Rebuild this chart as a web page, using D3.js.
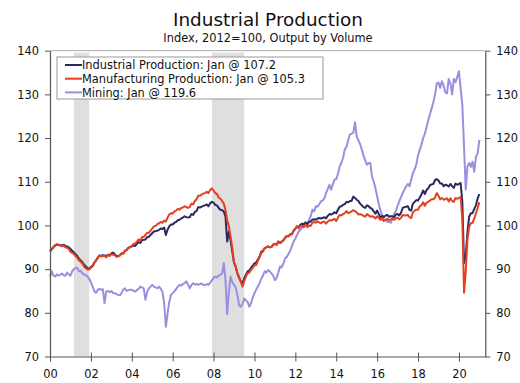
<!DOCTYPE html>
<html>
<head>
<meta charset="utf-8">
<script src="https://cdn.jsdelivr.net/npm/d3@7"></script>
<style>
  body { margin: 0; background: #fff; }
  svg text { font-family: 'DejaVu Sans', Verdana, sans-serif; fill: #111; }
</style>
</head>
<body>
<svg id="chart"></svg>
<script>
// monthly index values, Jan 2000 .. Jan 2021
const industrial = [
  94.0, 94.5, 95.0, 95.4, 95.6, 95.6, 95.5, 95.4, 95.6, 95.3, 95.2, 95.0,
  94.6, 94.2, 93.8, 93.4, 93.0, 92.4, 92.0, 91.6, 91.0, 90.6, 90.2, 90.1,
  90.5, 90.8, 91.5, 92.0, 92.6, 93.1, 93.0, 93.2, 93.1, 93.0, 93.3, 93.1,
  93.6, 93.8, 93.4, 93.0, 93.0, 93.2, 93.6, 93.6, 94.2, 94.4, 94.9, 95.0,
  95.2, 95.4, 95.3, 95.8, 96.2, 96.0, 96.6, 96.7, 96.8, 97.3, 97.4, 97.8,
  98.2, 98.6, 98.7, 98.8, 99.0, 99.3, 99.2, 99.5, 97.8, 99.0, 99.8, 100.2,
  100.2, 100.6, 100.8, 101.2, 101.3, 101.6, 101.8, 102.1, 101.9, 101.8, 101.9, 102.6,
  102.4, 103.1, 103.3, 104.2, 104.1, 104.3, 104.5, 104.6, 104.8, 104.4, 105.1, 105.4,
  105.2, 104.7, 104.6, 104.0, 103.6, 103.5, 103.2, 102.0, 96.3, 98.6, 96.5, 94.0,
  91.5, 90.5, 89.0, 88.0, 87.2, 86.8, 87.9, 88.7, 89.5, 89.7, 90.3, 90.8,
  91.3, 91.5, 92.2, 92.9, 94.0, 94.2, 94.8, 95.0, 95.2, 95.0, 95.1, 95.6,
  95.8, 95.6, 96.3, 96.0, 96.3, 96.6, 97.2, 97.6, 97.5, 98.0, 98.0, 98.8,
  99.3, 99.8, 99.6, 100.2, 100.4, 100.2, 100.7, 100.3, 100.8, 100.9, 101.3, 101.4,
  101.3, 101.6, 101.7, 101.6, 101.7, 101.9, 101.6, 102.2, 102.6, 102.5, 102.7, 103.0,
  102.8, 103.6, 104.3, 104.4, 104.7, 104.9, 105.4, 105.3, 105.6, 105.6, 106.6, 106.3,
  105.9, 105.6, 105.0, 104.6, 104.2, 104.0, 104.6, 104.4, 104.0, 103.8, 103.2, 102.7,
  103.4, 102.6, 101.8, 102.2, 101.9, 102.3, 102.4, 102.0, 102.1, 102.1, 101.9, 102.5,
  102.6, 102.3, 102.9, 104.0, 104.2, 104.3, 104.4, 103.5, 103.4, 105.0, 105.4, 105.8,
  105.7, 106.4, 107.1, 108.0, 107.2, 108.1, 108.5, 109.2, 109.4, 109.5, 110.4, 110.6,
  110.3, 109.6, 109.6, 109.0, 109.3, 109.2, 108.9, 109.5, 109.0, 108.6, 109.6, 109.3,
  109.5, 109.7, 105.4, 91.4, 93.0, 98.5, 102.0, 102.8, 102.8, 103.8, 104.6, 106.2,
  107.2
];

const manufacturing = [
  94.2, 94.6, 95.1, 95.5, 95.7, 95.5, 95.4, 95.2, 95.4, 95.0, 94.9, 94.6,
  94.0, 93.7, 93.5, 93.0, 92.6, 92.0, 91.7, 91.3, 90.6, 90.2, 89.9, 89.9,
  90.3, 90.6, 91.4, 92.0, 92.5, 93.1, 92.9, 93.0, 93.0, 92.7, 93.3, 93.0,
  93.4, 93.3, 93.2, 92.8, 92.9, 93.1, 93.6, 93.5, 94.2, 94.3, 94.9, 95.0,
  95.3, 95.8, 95.9, 96.3, 96.8, 96.5, 97.3, 97.4, 97.8, 98.3, 98.3, 98.8,
  99.3, 99.8, 99.9, 100.3, 100.5, 100.8, 100.6, 101.1, 100.9, 101.8, 102.5, 102.8,
  102.7, 103.2, 103.4, 103.8, 103.6, 104.0, 104.1, 104.4, 104.2, 104.0, 104.2, 105.0,
  104.8, 105.6, 106.0, 106.8, 106.8, 107.1, 107.3, 107.4, 107.7, 107.4, 108.1, 108.5,
  108.0, 107.4, 107.2, 106.4, 106.1, 105.6, 105.0, 103.5, 101.2, 99.8, 97.4, 94.8,
  91.5, 90.6, 89.0, 88.2, 87.0, 86.0, 87.3, 88.3, 89.1, 89.2, 89.8, 90.3,
  90.9, 90.9, 91.9, 92.7, 93.7, 94.0, 94.8, 95.0, 95.2, 95.0, 95.1, 95.6,
  95.8, 95.6, 96.3, 96.0, 96.3, 96.6, 97.2, 97.6, 97.5, 98.0, 98.0, 98.8,
  99.2, 99.8, 99.3, 99.9, 99.8, 99.6, 100.2, 99.6, 100.0, 99.9, 100.6, 100.8,
  100.6, 100.9, 100.7, 100.5, 100.8, 100.9, 100.4, 100.9, 101.2, 101.1, 101.3, 101.5,
  101.0, 101.8, 102.4, 102.3, 102.6, 102.8, 103.3, 102.8, 103.0, 103.2, 103.5, 103.3,
  103.0, 102.5, 102.6, 102.4, 102.2, 102.0, 102.6, 102.3, 102.0, 102.1, 102.0, 101.6,
  102.1, 101.7, 101.3, 101.5, 101.0, 101.3, 101.5, 101.2, 101.4, 101.5, 101.3, 101.6,
  101.8, 101.4, 101.7, 102.4, 102.3, 102.3, 102.4, 101.9, 101.7, 103.0, 103.4, 103.6,
  103.6, 104.4, 104.6, 105.3, 104.5, 105.2, 105.4, 105.7, 106.0, 106.0, 106.4, 107.4,
  106.8, 106.0, 106.3, 105.9, 106.0, 106.2, 105.5, 106.2, 105.6, 105.4, 106.3, 106.1,
  106.3, 106.5, 101.3, 84.6, 89.5, 96.7, 99.7, 100.5, 100.6, 101.6, 102.8, 104.0,
  105.3
];

const mining = [
  88.3, 89.5, 88.5, 88.3, 88.8, 88.5, 88.7, 89.0, 88.6, 88.5, 89.2, 88.8,
  88.5, 89.5, 90.0, 90.2, 90.3, 89.5, 89.6, 89.0, 88.8, 88.6, 88.3, 87.8,
  87.0, 86.0, 85.0, 84.6, 85.2, 85.5, 85.3, 85.4, 82.2, 84.9, 85.0, 84.7,
  85.0, 84.5, 84.5, 84.3, 84.1, 84.0, 84.5, 85.3, 85.6, 85.0, 85.2, 85.3,
  85.3, 85.0, 84.9, 85.2, 85.5, 86.0, 85.8, 85.6, 83.0, 84.8, 85.6, 86.0,
  86.4, 86.0, 85.8, 85.6, 86.0, 85.5, 84.8, 82.3, 76.8, 79.9, 82.5, 84.1,
  84.5, 84.9, 85.4, 86.0, 86.4, 86.2, 86.6, 86.8, 87.2, 86.5, 85.6, 86.3,
  86.8, 86.5, 86.6, 86.4, 86.6, 86.7, 86.4, 86.3, 86.6, 86.4, 86.9, 87.5,
  88.0, 88.3, 88.1, 88.5, 88.7, 89.0, 91.4, 87.5, 79.7, 85.0, 88.3, 87.0,
  86.4, 85.8, 84.0, 81.8, 81.4, 82.0, 83.3, 82.8, 82.5, 81.4, 82.2, 83.5,
  84.5, 85.3, 86.0, 86.8, 87.8, 88.5, 89.5, 89.2, 89.8, 89.5, 89.0, 88.5,
  87.5, 88.0, 89.2, 90.6, 90.4, 91.3, 92.5, 92.8, 93.5, 94.2, 95.3, 96.3,
  97.0, 97.8, 98.6, 99.0, 99.5, 100.5, 100.3, 100.2, 101.2, 102.1, 103.6, 103.2,
  104.4, 104.3, 104.8, 105.5, 105.7, 106.2, 107.4, 108.3, 109.3, 108.2, 109.4, 110.5,
  110.6, 111.8, 113.5, 114.3, 115.5, 117.4, 118.0, 119.5, 120.8, 121.0, 121.2, 123.6,
  120.4, 119.5, 118.6, 117.4, 116.0, 114.9, 113.9, 114.3, 114.3, 111.2, 110.0, 108.5,
  106.7, 104.8, 103.4, 102.1, 101.3, 101.2, 100.8, 100.9, 100.6, 101.6, 102.7, 103.3,
  104.5, 105.5, 106.5, 107.4, 108.2, 108.9, 109.5, 109.0, 110.5, 112.0, 112.8, 114.0,
  116.0, 117.3, 118.5, 120.0, 121.0, 122.5, 124.0, 125.5, 126.8, 128.2, 130.0, 132.5,
  132.7, 131.5, 133.0, 132.0, 130.5, 130.2, 133.5, 132.5, 130.0, 133.5, 132.8, 134.0,
  135.3, 131.5, 127.5, 118.0, 108.2, 113.5, 114.3, 113.4, 114.6, 112.3, 115.8, 116.5,
  119.6
];

const seriesNames = [
  'Industrial Production: Jan @ 107.2',
  'Manufacturing Production: Jan @ 105.3',
  'Mining: Jan @ 119.6'
];
const seriesColors = ['#2c285f', '#e2401f', '#9a8ee0'];

// recessions as [start, end] in decimal years
const recessions = [[2001.17, 2001.92], [2007.92, 2009.5]];

const yTicks = [70, 80, 90, 100, 110, 120, 130, 140];
const xTicks = [2000, 2002, 2004, 2006, 2008, 2010, 2012, 2014, 2016, 2018, 2020];

const width = 520, height = 383;
const margin = { top: 50.7, right: 34.7, bottom: 26.5, left: 50 };
const innerW = width - margin.left - margin.right;
const innerH = height - margin.top - margin.bottom;

const svg = d3.select('#chart')
  .attr('width', width)
  .attr('height', height);

svg.append('text')
  .attr('x', 268).attr('y', 26)
  .attr('text-anchor', 'middle')
  .style('font-size', '18.4px')
  .text('Industrial Production');

svg.append('text')
  .attr('x', 268).attr('y', 41.5)
  .attr('text-anchor', 'middle')
  .style('font-size', '11.4px')
  .text('Index, 2012=100, Output by Volume');

const chart = svg.append('g')
  .attr('transform', `translate(${margin.left},${margin.top})`);

const xScale = d3.scaleLinear()
  .domain([2000, 2021.29])
  .range([0, innerW]);

const yScale = d3.scaleLinear()
  .domain([70, 140])
  .range([innerH, 0]);

// recession bars
chart.selectAll('.recession')
  .data(recessions)
  .enter().append('rect')
  .attr('class', 'recession')
  .attr('x', d => xScale(d[0]))
  .attr('width', d => xScale(d[1]) - xScale(d[0]))
  .attr('y', 2)
  .attr('height', innerH - 2)
  .attr('fill', '#dfdfdf');

// top border
chart.append('line')
  .attr('x1', 0).attr('x2', innerW)
  .attr('y1', 0).attr('y2', 0)
  .attr('stroke', '#aaa');

const toPoints = arr => arr.map((v, i) => ({ t: 2000 + i / 12, v }));
const seriesData = [industrial, manufacturing, mining].map(toPoints);

const line = d3.line()
  .x(d => xScale(d.t))
  .y(d => yScale(d.v));

// draw mining first, then industrial, then manufacturing on top
[2, 0, 1].forEach(k => {
  chart.append('path')
    .datum(seriesData[k])
    .attr('fill', 'none')
    .attr('stroke', seriesColors[k])
    .attr('stroke-width', 2)
    .attr('stroke-linejoin', 'round')
    .attr('d', line);
});

// axes
const yAxisL = d3.axisLeft(yScale).tickValues(yTicks).tickSize(5).tickPadding(6).tickSizeOuter(0);
const yAxisR = d3.axisRight(yScale).tickValues(yTicks).tickSize(5).tickPadding(6).tickSizeOuter(0);
const xAxis = d3.axisBottom(xScale)
  .tickValues(xTicks)
  .tickFormat(d => d3.format('02d')(d - 2000))
  .tickSize(5).tickPadding(8).tickSizeOuter(0);

const yAxisLG = chart.append('g').call(yAxisL);
const yAxisRG = chart.append('g').attr('transform', `translate(${innerW},0)`).call(yAxisR);
const xAxisG = chart.append('g').attr('transform', `translate(0,${innerH})`).call(xAxis);

[yAxisLG, yAxisRG, xAxisG].forEach(g => {
  g.selectAll('.domain').attr('stroke', '#555').attr('stroke-width', 1.2);
  g.selectAll('.tick line').attr('stroke', '#555');
  g.selectAll('text')
    .style('font-family', "'DejaVu Sans', Verdana, sans-serif")
    .style('font-size', '11.4px')
    .attr('fill', '#111');
});
// x ticks cross the axis
xAxisG.selectAll('.tick line').attr('y1', -4).attr('y2', 5);

// legend
const legend = svg.append('g').attr('transform', 'translate(57,57)');
legend.append('rect')
  .attr('width', 266).attr('height', 42)
  .attr('fill', '#fff')
  .attr('stroke', '#999');

const item = legend.selectAll('.item')
  .data(seriesNames)
  .enter().append('g')
  .attr('class', 'item')
  .attr('transform', (d, i) => `translate(8,${8 + i * 13.7})`);

item.append('line')
  .attr('x1', 0).attr('x2', 17)
  .attr('stroke', (d, i) => seriesColors[i])
  .attr('stroke-width', 2);

item.append('text')
  .attr('x', 17)
  .attr('dy', '0.36em')
  .style('font-size', '11.4px')
  .text(d => d);
</script>
</body>
</html>
